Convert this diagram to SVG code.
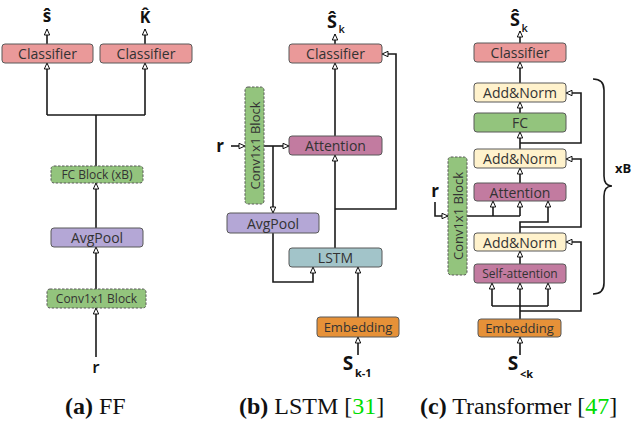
<svg xmlns="http://www.w3.org/2000/svg" width="634" height="422" viewBox="0 0 634 422">
<style>
.b{stroke:#595959;stroke-width:1}
.d{stroke-dasharray:2.5,1.5}
.t{font-family:"Open Sans","DejaVu Sans",sans-serif;font-size:14px;fill:#333;text-anchor:middle;dominant-baseline:central}
.m{font-family:"Open Sans","DejaVu Sans",sans-serif;fill:#111;font-weight:bold}
.c{font-family:"Liberation Serif","Times New Roman",serif;font-size:24px;fill:#111}
.l{fill:none;stroke:#1a1a1a;stroke-width:1.6}
.cls{fill:#ea9999}.avg{fill:#b4a7d6}.grn{fill:#93c47d}.att{fill:#c27ba0}.lstm{fill:#a2c4c9}.emb{fill:#e69138}.an{fill:#fff2cc}
</style>
<defs>
<marker id="a" viewBox="0 0 8 8" refX="7" refY="4" markerWidth="8" markerHeight="8" markerUnits="userSpaceOnUse" orient="auto">
<path d="M1,1.3 L7,4 L1,6.7 z" fill="#fff" stroke="#111" stroke-width="1"/>
</marker>
</defs>

<!-- connectors -->
<g id="connectors" class="l">
<!-- (a) -->
<path d="M47,44 V29" marker-end="url(#a)"/>
<path d="M145,44 V29" marker-end="url(#a)"/>
<path d="M96,166 V115 M47,115 H145"/>
<path d="M47,115 V63" marker-end="url(#a)"/>
<path d="M145,115 V63" marker-end="url(#a)"/>
<path d="M96,228 V183" marker-end="url(#a)"/>
<path d="M96,289 V247" marker-end="url(#a)"/>
<path d="M96,357 V308" marker-end="url(#a)"/>
<!-- (b) -->
<path d="M335,44 V34" marker-end="url(#a)"/>
<path d="M335,136 V63" marker-end="url(#a)"/>
<path d="M231,146 H245" marker-end="url(#a)"/>
<path d="M264,146 H289" marker-end="url(#a)"/>
<path d="M273,146 V213" marker-end="url(#a)"/>
<path d="M273,233 V282 H313 V267" marker-end="url(#a)"/>
<path d="M335,248 V155" marker-end="url(#a)"/>
<path d="M335,209 H396 V54 H382" marker-end="url(#a)"/>
<path d="M358,317 V267" marker-end="url(#a)"/>
<path d="M358,355 V337" marker-end="url(#a)"/>
<!-- (c) -->
<path d="M520,43 V31" marker-end="url(#a)"/>
<path d="M520,83 V62" marker-end="url(#a)"/>
<path d="M520,113 V102" marker-end="url(#a)"/>
<path d="M520,149 V132" marker-end="url(#a)"/>
<path d="M520,143 H581 V93 H566" marker-end="url(#a)"/>
<path d="M520,183 V168" marker-end="url(#a)"/>
<path d="M435,202 V216 H448" marker-end="url(#a)"/>
<path d="M467,216 H520"/>
<path d="M493,216 V201" marker-end="url(#a)"/>
<path d="M520,216 V201" marker-end="url(#a)"/>
<path d="M520,233 V222 H548 V201" marker-end="url(#a)"/>
<path d="M520,227 H581 V159 H566" marker-end="url(#a)"/>
<path d="M520,264 V251" marker-end="url(#a)"/>
<path d="M520,319 V306 M492,306 H548"/>
<path d="M492,306 V283" marker-end="url(#a)"/>
<path d="M520,306 V283" marker-end="url(#a)"/>
<path d="M548,306 V283" marker-end="url(#a)"/>
<path d="M520,311 H581 V242 H566" marker-end="url(#a)"/>
<path d="M520,355 V337" marker-end="url(#a)"/>
</g>

<!-- (a) nodes -->
<g id="a-cls1"><rect class="b cls" x="2" y="44" width="91" height="19" rx="3"/><text class="t" x="47.5" y="53.5">Classifier</text></g>
<g id="a-cls2"><rect class="b cls" x="100" y="44" width="92" height="19" rx="3"/><text class="t" x="146" y="53.5">Classifier</text></g>
<g id="a-fc"><rect class="b d grn" x="51" y="166" width="92" height="17" rx="3"/><text class="t" x="97" y="174.5" style="font-size:12px">FC Block (xB)</text></g>
<g id="a-avg"><rect class="b avg" x="51" y="228" width="92" height="19" rx="3"/><text class="t" x="97" y="237.5">AvgPool</text></g>
<g id="a-conv"><rect class="b d grn" x="47" y="289" width="99" height="19" rx="3"/><text class="t" x="96.5" y="298.5" style="font-size:12px">Conv1x1 Block</text></g>
<g id="a-labels">
<text class="m" x="47" y="22" text-anchor="middle" style="font-size:17px">ŝ</text>
<text class="m" x="145" y="23" text-anchor="middle" style="font-size:16px">K&#x302;</text>
<text class="m" x="96" y="373" text-anchor="middle" style="font-size:17px;font-weight:600">r</text>
</g>

<!-- (b) nodes -->
<g id="b-cls"><rect class="b cls" x="289" y="44" width="93" height="19" rx="3"/><text class="t" x="335.5" y="53.5">Classifier</text></g>
<g id="b-att"><rect class="b att" x="289" y="136" width="93" height="19" rx="3"/><text class="t" x="335.5" y="145.5">Attention</text></g>
<g id="b-conv"><rect class="b d grn" x="245" y="87" width="19" height="117" rx="3"/><text class="t" transform="translate(254.5,145.5) rotate(-90)" x="0" y="0" style="font-size:13px">Conv1x1 Block</text></g>
<g id="b-avg"><rect class="b avg" x="227" y="213" width="92" height="20" rx="3"/><text class="t" x="273" y="223">AvgPool</text></g>
<g id="b-lstm"><rect class="b lstm" x="289" y="248" width="93" height="19" rx="3"/><text class="t" x="335.5" y="257.5">LSTM</text></g>
<g id="b-emb"><rect class="b emb" x="317" y="317" width="82" height="20" rx="3"/><text class="t" x="358" y="327" style="font-size:13px">Embedding</text></g>
<g id="b-labels">
<text class="m" x="332" y="28" text-anchor="middle" style="font-size:18px">Ŝ</text>
<text class="m" x="338.5" y="33" style="font-size:11px;font-weight:600">k</text>
<text class="m" x="220" y="152" text-anchor="middle" style="font-size:17px">r</text>
<text class="m" x="348" y="370" text-anchor="middle" style="font-size:19px">S</text>
<text class="m" x="355" y="377" style="font-size:11px">k-1</text>
</g>

<!-- (c) nodes -->
<g id="c-cls"><rect class="b cls" x="474" y="43" width="92" height="19" rx="3"/><text class="t" x="520" y="52.5">Classifier</text></g>
<g id="c-an1"><rect class="b an" x="474" y="83" width="92" height="19" rx="3"/><text class="t" x="520" y="92.5">Add&amp;Norm</text></g>
<g id="c-fc"><rect class="b grn" x="474" y="113" width="92" height="19" rx="3"/><text class="t" x="520" y="122.5">FC</text></g>
<g id="c-an2"><rect class="b an" x="474" y="149" width="92" height="19" rx="3"/><text class="t" x="520" y="158.5">Add&amp;Norm</text></g>
<g id="c-att"><rect class="b att" x="474" y="183" width="92" height="18" rx="3"/><text class="t" x="520" y="192">Attention</text></g>
<g id="c-conv"><rect class="b d grn" x="448" y="157" width="19" height="118" rx="3"/><text class="t" transform="translate(457.5,216) rotate(-90)" x="0" y="0" style="font-size:13px">Conv1x1 Block</text></g>
<g id="c-an3"><rect class="b an" x="474" y="233" width="92" height="18" rx="3"/><text class="t" x="520" y="242">Add&amp;Norm</text></g>
<g id="c-sa"><rect class="b att" x="474" y="264" width="92" height="19" rx="3"/><text class="t" x="520" y="273.5" style="font-size:12px">Self-attention</text></g>
<g id="c-emb"><rect class="b emb" x="478" y="319" width="83" height="18" rx="3"/><text class="t" x="519.5" y="328" style="font-size:13px">Embedding</text></g>
<g id="c-brace"><path d="M593,79 Q604,79 604,90 V176 Q604,186 612,186 Q604,186 604,196 V283 Q604,294 593,294" fill="none" stroke="#1a1a1a" stroke-width="1.6"/>
<text class="m" x="615" y="173" style="font-size:13px">xB</text></g>
<g id="c-labels">
<text class="m" x="515" y="26" text-anchor="middle" style="font-size:18px">Ŝ</text>
<text class="m" x="521.5" y="32" style="font-size:11px;font-weight:600">k</text>
<text class="m" x="435" y="197" text-anchor="middle" style="font-size:17px">r</text>
<text class="m" x="513" y="370" text-anchor="middle" style="font-size:19px">S</text>
<text class="m" x="520" y="378" style="font-size:11px">&lt;k</text>
</g>

<!-- captions -->
<g id="captions">
<text class="c" x="65" y="414"><tspan font-weight="bold">(a)</tspan> FF</text>
<text class="c" x="239" y="414"><tspan font-weight="bold">(b)</tspan> LSTM [<tspan fill="#00dd00">31</tspan>]</text>
<text class="c" x="420" y="414"><tspan font-weight="bold">(c)</tspan> Transformer [<tspan fill="#00dd00">47</tspan>]</text>
</g>
</svg>
